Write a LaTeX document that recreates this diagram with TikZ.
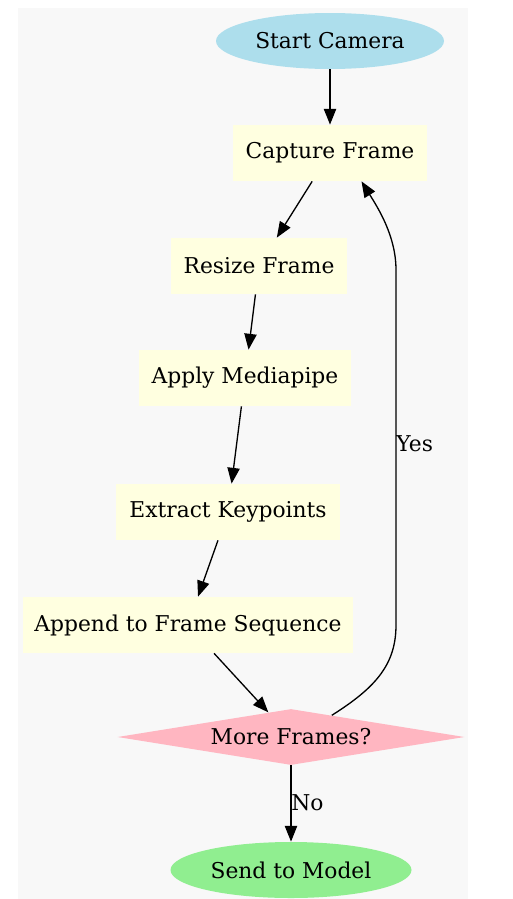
\documentclass[tikz,border=0pt]{standalone}
\usepackage{fontspec}
\setmainfont{DejaVu Serif}
\usetikzlibrary{arrows.meta,shapes.geometric}

\tikzset{
	proc/.style={rectangle, fill={rgb,255:red,255;green,255;blue,224}, minimum width=#1, minimum height=56*0.02cm, inner sep=0pt},
	term/.style={ellipse, minimum width=#1, minimum height=56*0.02cm, inner sep=0pt},
	flow/.style={line width=0.75pt, -{Triangle[length=9pt,width=7pt]}},
}

\begin{document}
\begin{tikzpicture}[x=0.02cm, y=-0.02cm, font=\fontsize{12.4}{14}\selectfont]
			%%%%% START %%%%%
			
			\useasboundingbox (0, 0) rectangle (513, 899);
			\fill[black!2.7] (18, 8) rectangle (468, 899);
			
			\node[term=228*0.02cm, fill={rgb,255:red,173;green,222;blue,236}] (start) at (330, 41) {Start Camera};
			\node[proc=194*0.02cm] (capture) at (330, 153) {Capture Frame};
			\node[proc=176*0.02cm] (resize) at (259, 266) {Resize Frame};
			\node[proc=212*0.02cm] (mediapipe) at (245, 378) {Apply Mediapipe};
			\node[proc=224*0.02cm] (keypoints) at (228, 512) {Extract Keypoints};
			\node[proc=330*0.02cm] (append) at (188, 625) {Append to Frame Sequence};
			
			\node[diamond, aspect=6.2, fill={rgb,255:red,255;green,182;blue,193}, inner sep=0pt, minimum width=347*0.02cm, minimum height=56*0.02cm] (more) at (291, 737) {More Frames?};
			\node[term=241*0.02cm, fill={rgb,255:red,144;green,238;blue,144}] (send) at (291, 870) {Send to Model};
			
			\draw[flow] (start) -- (capture);
			\draw[flow] (capture) -- (resize);
			\draw[flow] (resize) -- (mediapipe);
			\draw[flow] (mediapipe) -- (keypoints);
			\draw[flow] (keypoints) -- (append);
			\draw[flow] (append) -- (more);
			
			\draw[flow] (more.28) .. controls (375, 688) and (396, 665) .. (396, 625) -- (396, 270) .. controls (396, 236) and (378, 208) .. (capture.-42);
			\node[anchor=west, inner sep=0pt] (yes) at (396, 444) {Yes};
			
			\draw[flow] (more) -- (send);
			\node[anchor=west, inner sep=0pt] (no) at (291, 803) {No};
			
			%%%%% END %%%%%
		\end{tikzpicture}
\end{document}
